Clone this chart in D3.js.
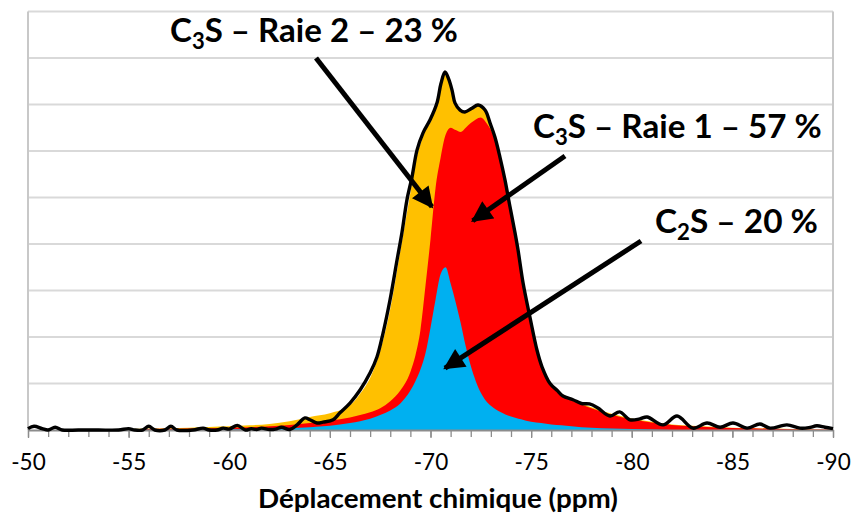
<!DOCTYPE html>
<html>
<head>
<meta charset="utf-8">
<script src="https://cdn.jsdelivr.net/npm/d3@7"></script>
<style>
html,body{margin:0;padding:0;background:#fff;}
svg{display:block;}
</style>
</head>
<body>
<svg id="chart" width="852" height="514"></svg>
<script>
// ---- data ----
const ppm   = [-50,-51,-52,-53,-54,-55,-56,-57,-58,-59,-60,-61,-62,-63,-64,-65,-66,-66.5,-67,-67.5,-68,-68.5,-69,-69.25,-69.5,-69.75,-70,-70.25,-70.5,-70.75,-71,-71.25,-71.5,-71.75,-72,-72.25,-72.5,-72.75,-73,-73.25,-73.5,-73.75,-74,-74.25,-74.5,-74.75,-75,-75.5,-76,-76.5,-77,-77.5,-78,-79,-80,-81,-82,-83,-84,-85,-86,-87,-88,-89,-90];
const c2s   = [0,0,0,0,0,0,0.005,0.008,0.01,0.012,0.015,0.02,0.03,0.04,0.06,0.09,0.15,0.19,0.24,0.32,0.42,0.57,0.85,1.05,1.3,1.65,2.2,2.8,3.35,3.5,3.15,2.75,2.3,1.8,1.38,1.05,0.8,0.63,0.52,0.44,0.38,0.33,0.29,0.26,0.23,0.2,0.18,0.15,0.12,0.1,0.08,0.06,0.05,0.03,0.02,0.01,0,0,0,0,0,0,0,0,0];
const raie1 = [0,0,0,0,0,0.01,0.015,0.017,0.02,0.028,0.035,0.04,0.05,0.07,0.09,0.11,0.12,0.13,0.14,0.15,0.2,0.28,0.4,0.55,0.85,1.45,1.9,2.4,2.5,2.85,3.35,3.7,4.11,4.7,5.22,5.63,5.92,5.99,5.93,5.74,5.37,4.92,4.39,3.84,3.17,2.6,2.1,1.23,0.83,0.66,0.56,0.49,0.42,0.3,0.21,0.15,0.11,0.08,0.06,0.045,0.035,0.025,0.015,0.01,0.005];
const raie2 = [0,0,0,0,0,0.01,0.01,0.015,0.02,0.025,0.03,0.04,0.05,0.08,0.13,0.16,0.26,0.46,0.74,1.23,1.98,3.0,3.85,4.15,4.0,3.35,2.52,1.75,1.55,1.33,0.88,0.55,0.45,0.34,0.3,0.29,0.23,0.23,0.1,0.07,0.05,0.05,0.04,0.04,0.04,0.04,0.03,0.03,0.03,0.03,0.03,0.02,0.02,0.02,0.02,0.02,0.01,0.01,0.01,0.005,0.005,0.005,0.005,0,0];

const specPpm = [-50,-50.3,-50.7,-51,-51.35,-51.7,-52.5,-53.5,-54.5,-55,-55.3,-55.7,-56,-56.3,-56.8,-57.1,-57.4,-58.2,-58.7,-59,-59.4,-59.7,-60,-60.4,-60.8,-61.1,-61.35,-61.6,-62,-62.3,-62.6,-63,-63.37,-63.76,-64.01,-64.36,-64.66,-65.16,-65.5,-66,-66.5,-67,-67.34,-67.64,-67.99,-68.34,-68.58,-68.83,-69.08,-69.33,-69.63,-69.98,-70.32,-70.52,-70.72,-70.9,-71.07,-71.22,-71.47,-71.71,-72.06,-72.36,-72.71,-72.96,-73.2,-73.45,-73.7,-73.95,-74.2,-74.35,-74.6,-74.94,-75.29,-75.54,-75.94,-76.3,-76.58,-77.08,-77.5,-77.9,-78.3,-78.92,-79.4,-79.91,-80.4,-80.76,-81.55,-82.25,-83.04,-83.74,-84.39,-85.03,-85.73,-86.37,-86.87,-87.71,-88.36,-88.8,-89.2,-89.6,-90];
const specVal = [0.03,0.08,0.03,0,0.06,0,0,0,0,0.03,0,0,0.08,0,0,0.08,0,0,0.04,0,0,0.04,0.02,0.1,0,0.03,0.01,0.04,0.01,0.02,0.06,0.01,0.11,0.26,0.22,0.15,0.17,0.22,0.37,0.58,0.86,1.23,1.57,2.08,2.8,3.66,4.24,4.95,5.44,6.02,6.39,6.67,7.03,7.45,7.7,7.55,7.31,7.03,6.88,6.84,6.92,6.99,6.88,6.6,6.3,5.87,5.38,4.8,4.24,3.87,3.16,2.43,1.72,1.36,1.0,0.85,0.73,0.65,0.57,0.56,0.48,0.3,0.39,0.22,0.24,0.28,0.11,0.3,0.04,0.15,0.06,0.15,0.04,0.13,0.04,0.11,0.04,0.05,0.09,0.06,0.03];

const xMajor = [-50,-55,-60,-65,-70,-75,-80,-85,-90];
const xMinor = d3.range(-50,-90.5,-1);
const gridLevels = [1,2,3,4,5,6,7,8,9];
const xTitle = "Déplacement chimique (ppm)";

const labels = [
  {parts:[["C",false],["3",true],["S – Raie 2 – 23 %",false]], x:170, y:42, width:288, target:[-70.07,4.8], from:[316,58]},
  {parts:[["C",false],["3",true],["S – Raie 1 – 57 %",false]], x:533, y:138, width:289, target:[-72.1,4.5], from:[565,156]},
  {parts:[["C",false],["2",true],["S – 20 %",false]], x:655, y:233, width:163, target:[-70.72,1.33], from:[641,241]}
];

// ---- chart ----
const svg = d3.select("#chart");
const mLeft = 28, mRight = 833, mTop = 11.5, mBottom = 430;

const x = d3.scaleLinear().domain([-50,-90]).range([mLeft,mRight]);
const y = d3.scaleLinear().domain([0,9]).range([mBottom,mTop]);

// gridlines
svg.append("g").selectAll("line").data(gridLevels).join("line")
  .attr("x1",mLeft).attr("x2",mRight)
  .attr("y1",d=>y(d)).attr("y2",d=>y(d))
  .attr("stroke","#d9d9d9").attr("stroke-width",2);

// frame (left & right)
svg.append("line").attr("x1",mLeft).attr("x2",mLeft).attr("y1",mTop).attr("y2",mBottom)
  .attr("stroke","#c8c8c8").attr("stroke-width",2);
svg.append("line").attr("x1",mRight).attr("x2",mRight).attr("y1",mTop).attr("y2",mBottom)
  .attr("stroke","#c8c8c8").attr("stroke-width",2);

// stacked areas
const table = ppm.map((p,i)=>({ppm:p, c2s:c2s[i], raie1:raie1[i], raie2:raie2[i]}));
const stack = d3.stack().keys(["c2s","raie1","raie2"]);
const series = stack(table);
const colors = {c2s:"#00B0F0", raie1:"#FF0000", raie2:"#FFC000"};
const areaFull = d3.area().x(d=>x(d.data.ppm)).y0(y(0)).y1(d=>y(d[1])).curve(d3.curveMonotoneX);
svg.append("g").selectAll("path").data(series.slice().reverse()).join("path")
  .attr("d",s=>areaFull(s))
  .attr("fill",s=>colors[s.key]);

// x axis
const axisMinor = d3.axisBottom(x).tickValues(xMinor).tickSize(7).tickFormat("").tickSizeOuter(0);
const gMinor = svg.append("g").attr("transform",`translate(0,${mBottom})`).call(axisMinor);
gMinor.select(".domain").attr("stroke","#8c8c8c").attr("stroke-width",2);
gMinor.selectAll(".tick line").attr("stroke","#8c8c8c").attr("stroke-width",1.3);

const axisMajor = d3.axisBottom(x).tickValues(xMajor).tickSize(8).tickPadding(16)
  .tickFormat(d=>String(d)).tickSizeOuter(0);
const gMajor = svg.append("g").attr("transform",`translate(0,${mBottom})`).call(axisMajor);
gMajor.select(".domain").remove();
gMajor.selectAll(".tick line").attr("stroke","#8c8c8c").attr("stroke-width",1.3);
gMajor.selectAll(".tick text").attr("font-family","Lato, 'Open Sans', sans-serif")
  .attr("font-size",22.5).attr("fill","#000");

// spectrum line
const line = d3.line().x((d,i)=>x(specPpm[i])).y(d=>y(d)).curve(d3.curveCatmullRom.alpha(0.5));
svg.append("path").attr("d",line(specVal)).attr("fill","none")
  .attr("stroke","#000").attr("stroke-width",3.4).attr("stroke-linejoin","round");

// axis title
svg.append("text").attr("x",438).attr("y",508).attr("text-anchor","middle")
  .attr("font-family","Lato, 'Open Sans', sans-serif").attr("font-weight","bold")
  .attr("font-size",26).attr("fill","#000")
  .attr("textLength",360).attr("lengthAdjust","spacingAndGlyphs")
  .text(xTitle);

// annotations
const defs = svg.append("defs");
defs.append("marker").attr("id","ah").attr("viewBox","0 0 10 10").attr("refX",9).attr("refY",5)
  .attr("markerWidth",4.4).attr("markerHeight",4.2).attr("orient","auto").attr("markerUnits","strokeWidth")
  .append("path").attr("d","M0,0 L10,5 L0,10 Z").attr("fill","#000");

labels.forEach(l=>{
  const t = svg.append("text").attr("x",l.x).attr("y",l.y)
    .attr("font-family","Lato, 'Open Sans', sans-serif").attr("font-weight","bold")
    .attr("font-size",33).attr("fill","#000");
  l.parts.forEach(([s,sub],i)=>{
    const ts = t.append("tspan").text(s);
    if(sub){ ts.attr("font-size",22).attr("dy",7); }
    else if(i>0){ ts.attr("dy",-7); }
  });
  // stretch to the measured width of the reference label
  const w = t.node().getComputedTextLength();
  if (w > 0) {
    const k = l.width / w;
    t.attr("transform",`translate(${l.x},${l.y}) scale(${k},1) translate(${-l.x},${-l.y})`);
  }
  const tx = x(l.target[0]), ty = y(l.target[1]);
  svg.append("line").attr("x1",l.from[0]).attr("y1",l.from[1]).attr("x2",tx).attr("y2",ty)
    .attr("stroke","#000").attr("stroke-width",5).attr("marker-end","url(#ah)");
});
</script>
</body>
</html>
